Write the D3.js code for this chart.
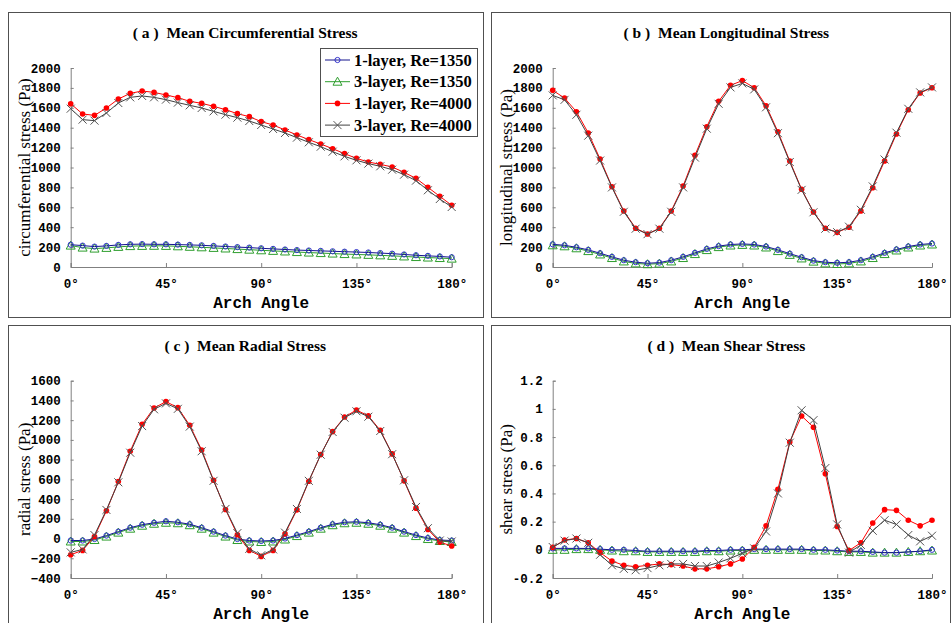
<!DOCTYPE html>
<html><head><meta charset="utf-8">
<script src="https://cdn.jsdelivr.net/npm/d3@7"></script>
<style>body{margin:0;background:#fff}svg{display:block}</style>
</head><body>
<svg id="c" width="951" height="623"></svg>
<script>
const angles = [0,5.625,11.25,16.875,22.5,28.125,33.75,39.375,45,50.625,56.25,61.875,67.5,73.125,78.75,84.375,90,95.625,101.25,106.875,112.5,118.125,123.75,129.375,135,140.625,146.25,151.875,157.5,163.125,168.75,174.375,180];
const xTicks = [0,45,90,135,180];
const seriesNames = ["1-layer, Re=1350","3-layer, Re=1350","1-layer, Re=4000","3-layer, Re=4000"];

const a_blue  = [224,215,205,212,222,228,230,228,228,225,222,218,212,206,200,195,188,182,176,170,166,162,158,154,150,146,140,134,126,118,112,106,98];
const a_green = [215,195,185,192,202,210,212,213,212,208,203,198,192,186,180,174,168,162,156,150,145,140,135,130,126,122,117,112,106,100,95,90,84];
const a_red   = [1641,1538,1524,1598,1688,1745,1769,1755,1729,1702,1665,1645,1615,1581,1541,1511,1461,1427,1377,1327,1280,1236,1189,1139,1092,1055,1032,1005,951,891,801,710,620];
const a_black = [1591,1481,1471,1548,1648,1705,1719,1705,1682,1652,1625,1598,1564,1531,1501,1467,1427,1387,1347,1300,1253,1209,1159,1112,1072,1039,1012,978,928,868,771,683,603];

const b_blue  = [228,218,198,172,138,102,68,48,38,44,68,102,142,182,210,226,232,226,206,172,134,98,64,48,42,48,68,102,142,176,206,226,236];
const b_green = [218,208,188,160,126,90,56,36,28,34,56,90,130,170,200,216,222,216,196,160,122,86,54,36,30,36,56,90,130,166,196,216,226];
const b_red   = [1776,1698,1561,1347,1085,807,563,389,332,389,563,814,1122,1410,1665,1826,1873,1802,1621,1360,1065,781,553,389,348,399,563,797,1065,1337,1581,1749,1802];
const b_black = [1725,1680,1530,1320,1070,800,555,385,330,385,555,800,1100,1390,1640,1805,1845,1785,1605,1345,1055,775,550,385,350,405,575,810,1080,1350,1590,1755,1805];

const c_blue  = [-20,-20,-5,30,70,110,140,160,175,165,145,110,70,30,-5,-20,-25,-20,0,35,70,110,145,165,170,160,140,110,70,35,5,-15,-20];
const c_green = [-30,-30,-15,20,60,100,130,150,160,155,135,100,60,20,-15,-30,-35,-30,-10,25,60,100,135,155,160,150,130,100,60,25,-5,-25,-35];
const c_red   = [-164,-120,21,281,578,885,1158,1323,1388,1327,1148,898,591,295,39,-120,-181,-120,48,291,581,851,1084,1232,1303,1243,1098,858,585,308,92,-36,-76];
const c_black = [-140,-110,35,290,570,870,1140,1310,1370,1315,1135,885,585,300,55,-105,-170,-110,60,300,585,850,1080,1225,1290,1235,1090,855,590,320,105,-20,-30];

const d_blue  = [0.01,0.01,0.01,0.01,0.005,0,0,-0.005,-0.01,-0.01,-0.01,-0.01,-0.01,-0.005,-0.005,0,0,0.005,0.005,0.005,0.005,0.005,0,0,-0.005,-0.01,-0.01,-0.015,-0.02,-0.02,-0.015,-0.01,0];
const d_green = [0,0,0.005,0.005,0,-0.005,-0.01,-0.01,-0.015,-0.015,-0.015,-0.015,-0.015,-0.01,-0.01,-0.005,-0.005,0,0,0,0,0,-0.005,-0.005,-0.01,-0.015,-0.015,-0.02,-0.02,-0.02,-0.015,-0.01,-0.005];
const d_red   = [0.017,0.07,0.08,0.05,-0.02,-0.08,-0.11,-0.12,-0.11,-0.10,-0.105,-0.115,-0.135,-0.135,-0.12,-0.10,-0.065,0.017,0.17,0.43,0.765,0.95,0.87,0.54,0.165,-0.005,0.05,0.19,0.285,0.28,0.21,0.17,0.21];
const d_black = [0.02,0.065,0.08,0.05,-0.035,-0.11,-0.135,-0.145,-0.13,-0.11,-0.10,-0.10,-0.115,-0.115,-0.09,-0.06,-0.025,0.01,0.13,0.40,0.76,0.99,0.92,0.58,0.18,-0.02,0.035,0.135,0.21,0.18,0.105,0.06,0.10];

const ticksA = [0,200,400,600,800,1000,1200,1400,1600,1800,2000];
const ticksC = [-400,-200,0,200,400,600,800,1000,1200,1400,1600];
const ticksD = [-0.2,0,0.2,0.4,0.6,0.8,1,1.2];
const tickLabelsD = ["-0.2","0","0.2","0.4","0.6","0.8","1","1.2"];

const panels = [
  {title:"( a )  Mean Circumferential Stress", ylab:"circumferential stress (Pa)", box:[8,12,483,317],
   x:[70.7,451.7], y:[267,68], dom:[0,2000], ticks:ticksA, labels:null, data:[a_blue,a_green,a_red,a_black], legend:true},
  {title:"( b )  Mean Longitudinal Stress", ylab:"longitudinal stress (Pa)", box:[491,12,950,317],
   x:[552.7,932], y:[267,68], dom:[0,2000], ticks:ticksA, labels:null, data:[b_blue,b_green,b_red,b_black]},
  {title:"( c )  Mean Radial Stress", ylab:"radial stress (Pa)", box:[8,325,483,640],
   x:[70.7,451.7], y:[578,380.7], dom:[-400,1600], ticks:ticksC, labels:null, data:[c_blue,c_green,c_red,c_black]},
  {title:"( d )  Mean Shear Stress", ylab:"shear stress (Pa)", box:[491,325,950,640],
   x:[552.7,932], y:[578,380.7], dom:[-0.2,1.2], ticks:ticksD, labels:tickLabelsD, data:[d_blue,d_green,d_red,d_black]}
];

const styles = [
  {line:"#14148c", mark:"circle"},
  {line:"#2e9e2e", mark:"tri"},
  {line:"#ff0000", mark:"dot"},
  {line:"#404040", mark:"x"}
];
const drawOrder = [1,0,2,3];

const svg = d3.select("#c");
const serif = "'Liberation Serif','Times New Roman',serif";
const mono = "'Liberation Mono','DejaVu Sans Mono',monospace";

function marker(g, type, cx, cy){
  if(type==="circle") g.append("circle").attr("cx",cx).attr("cy",cy).attr("r",2.6).attr("fill","none").attr("stroke","#3333cc").attr("stroke-width",1);
  else if(type==="tri") g.append("path").attr("d",`M${cx},${cy-4.5}L${cx+4.5},${cy+3.5}L${cx-4.5},${cy+3.5}Z`).attr("fill","none").attr("stroke","#2e9e2e").attr("stroke-width",1);
  else if(type==="dot") g.append("circle").attr("cx",cx).attr("cy",cy).attr("r",2.8).attr("fill","#ff0000");
  else if(type==="x") g.append("path").attr("d",`M${cx-4},${cy-4}L${cx+4},${cy+4}M${cx-4},${cy+4}L${cx+4},${cy-4}`).attr("stroke","#555").attr("stroke-width",1);
}

panels.forEach(p=>{
  const [x0,y0,x1,y1] = p.box;
  svg.append("rect").attr("x",x0+0.5).attr("y",y0+0.5).attr("width",x1-x0).attr("height",y1-y0)
    .attr("fill","none").attr("stroke","#505050").attr("stroke-width",1);
  const xs = d3.scaleLinear().domain([0,180]).range(p.x);
  const ys = d3.scaleLinear().domain(p.dom).range(p.y);
  const g = svg.append("g");
  // title
  g.append("text").attr("x",(xs(0)+xs(180))/2-16).attr("y",y0+26).attr("text-anchor","middle")
    .attr("font-family",serif).attr("font-weight","bold").attr("font-size",15.5).style("white-space","pre").text(p.title);
  // y axis
  const yAx = g.append("g").attr("transform",`translate(${xs(0)},0)`)
    .call(d3.axisLeft(ys).tickValues(p.ticks).tickSize(-3).tickPadding(10).tickFormat((d,i)=>p.labels?p.labels[i]:d3.format("d")(d)));
  // x axis
  const xAx = g.append("g").attr("transform",`translate(0,${ys(p.dom[0])})`)
    .call(d3.axisBottom(xs).tickValues(xTicks).tickSize(-4).tickPadding(12).tickFormat(d=>d+"°"));
  [yAx,xAx].forEach(ax=>{
    ax.select(".domain").attr("stroke","#808080");
    ax.selectAll(".tick line").attr("stroke","#808080");
    ax.selectAll("text").attr("font-family",mono).attr("font-weight","bold").attr("font-size",12.5).attr("fill","#000");
  });
  // x-axis label
  g.append("text").attr("x",(xs(0)+xs(180))/2).attr("y",ys(p.dom[0])+40.5).attr("text-anchor","middle")
    .attr("font-family",mono).attr("font-weight","bold").attr("font-size",16).text("Arch Angle");
  // y-axis label
  const ym = (ys(p.dom[0])+ys(p.dom[1]))/2;
  g.append("text").attr("transform",`translate(${xs(0)-41},${ym}) rotate(-90)`).attr("text-anchor","middle")
    .attr("font-family",serif).attr("font-size",17).text(p.ylab);
  // series
  const line = d3.line().x((d,i)=>xs(angles[i])).y(d=>ys(d));
  drawOrder.forEach(si=>{
    const vals = p.data[si];
    g.append("path").attr("d",line(vals)).attr("fill","none").attr("stroke",styles[si].line).attr("stroke-width",1);
    const mg = g.append("g");
    vals.forEach((v,i)=>marker(mg, styles[si].mark, xs(angles[i]), ys(v)));
  });
  if(p.legend){
    const lg = svg.append("g");
    lg.append("rect").attr("x",320.5).attr("y",48.5).attr("width",157).attr("height",88).attr("fill","#fff").attr("stroke","#505050");
    seriesNames.forEach((n,i)=>{
      const yy = 60 + i*21.7;
      lg.append("line").attr("x1",325).attr("x2",350).attr("y1",yy).attr("y2",yy).attr("stroke",styles[i].line);
      marker(lg, styles[i].mark, 337.5, yy);
      lg.append("text").attr("x",354).attr("y",yy+5.5).attr("font-family",serif).attr("font-weight","bold").attr("font-size",16.5).text(n);
    });
  }
});
</script>
</body></html>
